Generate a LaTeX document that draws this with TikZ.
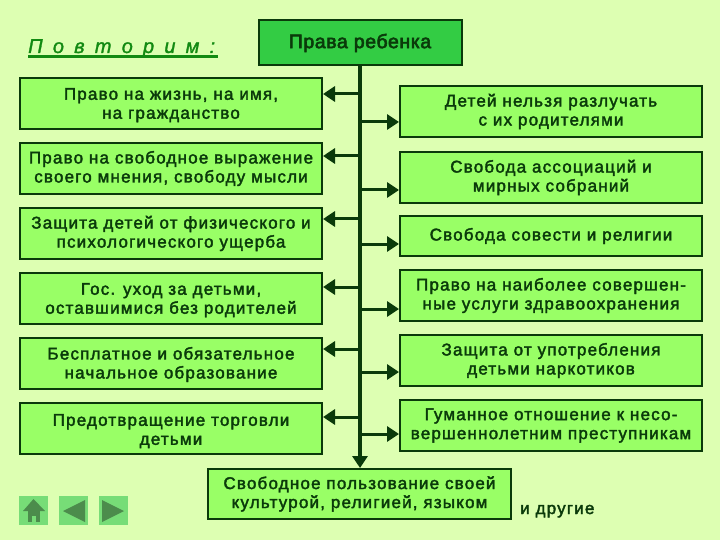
\documentclass[tikz,border=0pt]{standalone}
\usepackage{fontspec}
\setmainfont{Liberation Sans}
\newfontfamily\boxfont[LetterSpace=7,FakeBold=2.2]{Liberation Sans}
\newfontfamily\topfont[LetterSpace=3,FakeBold=3]{Liberation Sans}
\newfontfamily\titlefont[FakeBold=1.5]{Liberation Sans}
\usetikzlibrary{arrows.meta}
\definecolor{bgc}{HTML}{DDFFB2}
\definecolor{boxc}{HTML}{99FF66}
\definecolor{topc}{HTML}{33CC44}
\definecolor{inkc}{HTML}{0A3A0A}
\definecolor{titlec}{HTML}{128A12}
\definecolor{navc}{HTML}{77DD77}
\definecolor{navi}{HTML}{4C8C4C}
\tikzset{
  itembox/.style={draw=inkc,fill=boxc,line width=2pt,inner sep=0pt,text=inkc,align=center,
    font=\boxfont\fontsize{17}{19}\selectfont},
  leftbox/.style={itembox,minimum width=302pt,minimum height=51pt},
  rightbox/.style={itembox,minimum width=302pt,minimum height=51pt},
  arr/.style={draw=inkc,line width=3pt,-{Triangle[length=12pt,width=15pt]}},
  navbtn/.style={fill=navc},
  navicon/.style={fill=navi}
}
\newcommand{\tgap}{\hspace{10.2pt}}
\newcommand{\pushdown}[1]{\rule{0pt}{#1}}
\begin{document}
\begin{tikzpicture}[x=1pt,y=-1pt]
\useasboundingbox[fill=bgc] (0,0) rectangle (720,540);
% title
\node[anchor=base west,inner sep=0pt,text=titlec,font=\titlefont\fontsize{20}{22}\selectfont\itshape] (title) at (28,53)
  {П\tgap о\tgap в\tgap т\tgap о\tgap р\tgap и\tgap м\tgap :};
\fill[titlec] (28,55.5) rectangle (218,58);
% main boxes
\node[itembox,fill=topc,minimum width=203pt,minimum height=45pt,anchor=center] (top) at (360,43)
  {\raisebox{1pt}{\topfont\fontsize{19.5}{19}\selectfont Права ребенка}};
\node[leftbox] (L1) at (171,103.5) {\pushdown{15pt}Право на жизнь, на имя,\\на гражданство};
\node[leftbox] (L2) at (171,168.5) {Право на свободное выражение\\своего мнения, свободу мысли};
\node[leftbox] (L3) at (171,233.5) {Защита детей от физического и\\психологического ущерба};
\node[leftbox] (L4) at (171,298.5) {\pushdown{15pt}Гос. уход за детьми,\\оставшимися без родителей};
\node[leftbox] (L5) at (171,363.5) {\pushdown{14.5pt}Бесплатное и обязательное\\начальное образование};
\node[leftbox] (L6) at (171,428.5) {\pushdown{17pt}Предотвращение торговли\\детьми};
\node[rightbox] (R1) at (551,111.5) {Детей нельзя разлучать\\с их родителями};
\node[rightbox] (R2) at (551,177.5) {Свобода ассоциаций и\\мирных собраний};
\node[rightbox,minimum height=40pt] (R3) at (551,236) {Свобода совести и религии};
\node[rightbox] (R4) at (551,295.5) {Право на наиболее совершен-\\ные услуги здравоохранения};
\node[rightbox] (R5) at (551,360.5) {Защита от употребления\\детьми наркотиков};
\node[rightbox] (R6) at (551,425.5) {Гуманное отношение к несо-\\вершеннолетним преступникам};
\node[itembox,minimum width=303pt,minimum height=50pt] (B) at (359.5,494) {Свободное пользование своей\\культурой, религией, языком};
\node[anchor=base west,inner sep=0pt,text=inkc,font=\boxfont\fontsize{17}{19}\selectfont] (other) at (520,514) {и другие};
% trunk
\draw[arr,line width=4pt] (top.south -| 360,0) -- (B.north -| 360,0);
% branch points on the trunk
\foreach \n/\y in {L1/94,L2/156,L3/219,L4/287,L5/349,L6/417}{
  \coordinate (t\n) at (360,\y);
  \draw[arr] (t\n) -- (t\n -| \n.east);
}
\foreach \n/\y in {R1/122,R2/190,R3/244,R4/309,R5/372,R6/434}{
  \coordinate (t\n) at (362,\y);
  \draw[arr] (t\n) -- (t\n -| \n.west);
}
% navigation buttons
\fill[navbtn] (19,496) rectangle (48,525);
\fill[navbtn] (59,496) rectangle (88,525);
\fill[navbtn] (99,496) rectangle (128,525);
\fill[navicon] (23,511) -- (33.5,499) -- (45,511) -- cycle;
\fill[navicon] (28,511) rectangle (40,522);
\fill[navc] (32,516) rectangle (36,522);
\fill[navicon] (63,511) -- (85,500) -- (85,522) -- cycle;
\fill[navicon] (102,500) -- (124,511) -- (102,522) -- cycle;
\end{tikzpicture}
\end{document}
